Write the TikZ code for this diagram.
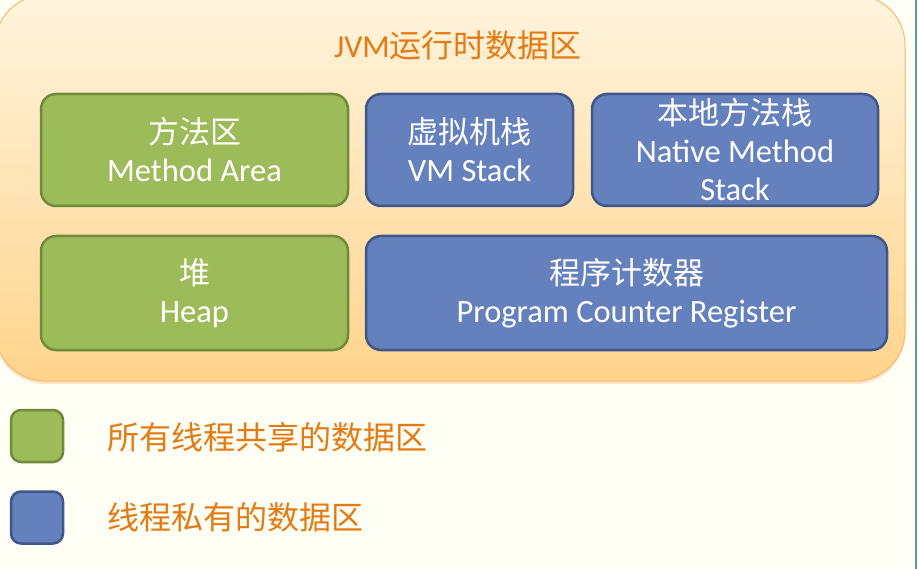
\documentclass[tikz,border=0pt]{standalone}
\usepackage{fontspec}
\setmainfont{Carlito}
\newfontfamily\cjk{Noto Sans CJK SC}
\usetikzlibrary{shadows}
\definecolor{bgcol}{HTML}{FFFEF5}
\definecolor{grn}{HTML}{9DBB59}
\definecolor{grnline}{HTML}{6E8B3A}
\definecolor{blu}{HTML}{6480BD}
\definecolor{bluline}{HTML}{3E5689}
\definecolor{orng}{HTML}{E47A12}
\definecolor{paneltop}{HTML}{FFF4DE}
\definecolor{panelbot}{HTML}{FFD48C}
\definecolor{panelline}{HTML}{F4BA6A}
\definecolor{edge}{HTML}{5E9AA6}
\newcommand\zh[1]{{\fontsize{31}{38}\selectfont\cjk #1}}

\begin{document}
\begin{tikzpicture}[x=1pt,y=-1pt,
    area/.style={draw=#1line, fill=#1, line width=2.5pt, rounded corners=15pt,
      text=white, align=center, inner sep=0pt,
      font=\fontsize{32.5}{38}\selectfont},
    key/.style={draw=#1line, fill=#1, line width=2.5pt, rounded corners=10pt,
      minimum size=52, inner sep=0pt},
    keytext/.style={anchor=west, text=orng, font=\fontsize{32}{38}\selectfont\cjk}]
    \useasboundingbox[fill=bgcol] (0,0) rectangle (918,569);
    % panel
    \draw[panelline, line width=1pt, rounded corners=50pt, top color=paneltop, bottom color=panelbot,
      drop shadow={shadow xshift=0pt, shadow yshift=-3pt, opacity=.2, fill=orange!80!brown}]
      (-5,-5) rectangle (905,381);
    \node (title) at (458,45)[text=orng, font=\fontsize{32}{38}\selectfont]{JVM{\cjk 运行时数据区}};
    % areas
    \node (method) at (194.5,150)[area=grn, minimum width=307, minimum height=112]{\zh{方法区}\\Method Area};
    \node (vmstack) at (469.5,150)[area=blu, minimum width=207, minimum height=112]{\zh{虚拟机栈}\\VM Stack};
    \node (native) at (735,150)[area=blu, minimum width=286, minimum height=112]{\zh{本地方法栈}\\Native Method\\Stack};
    \node (heap) at (194.5,293)[area=grn, minimum width=307, minimum height=114]{\zh{堆}\\Heap};
    \node (pc) at (626.5,293)[area=blu, minimum width=521, minimum height=114]{\zh{程序计数器}\\Program Counter Register};
    % legend
    \node (keyshared) at (37,436)[key=grn]{};
    \node (keyprivate) at (37,517.5)[key=blu]{};
    \node (shared) at (104,437)[keytext]{所有线程共享的数据区};
    \node (private) at (104,517)[keytext]{线程私有的数据区};
    \draw[edge, line width=1.5pt] (916,0)--(916,569);
\end{tikzpicture}
\end{document}
